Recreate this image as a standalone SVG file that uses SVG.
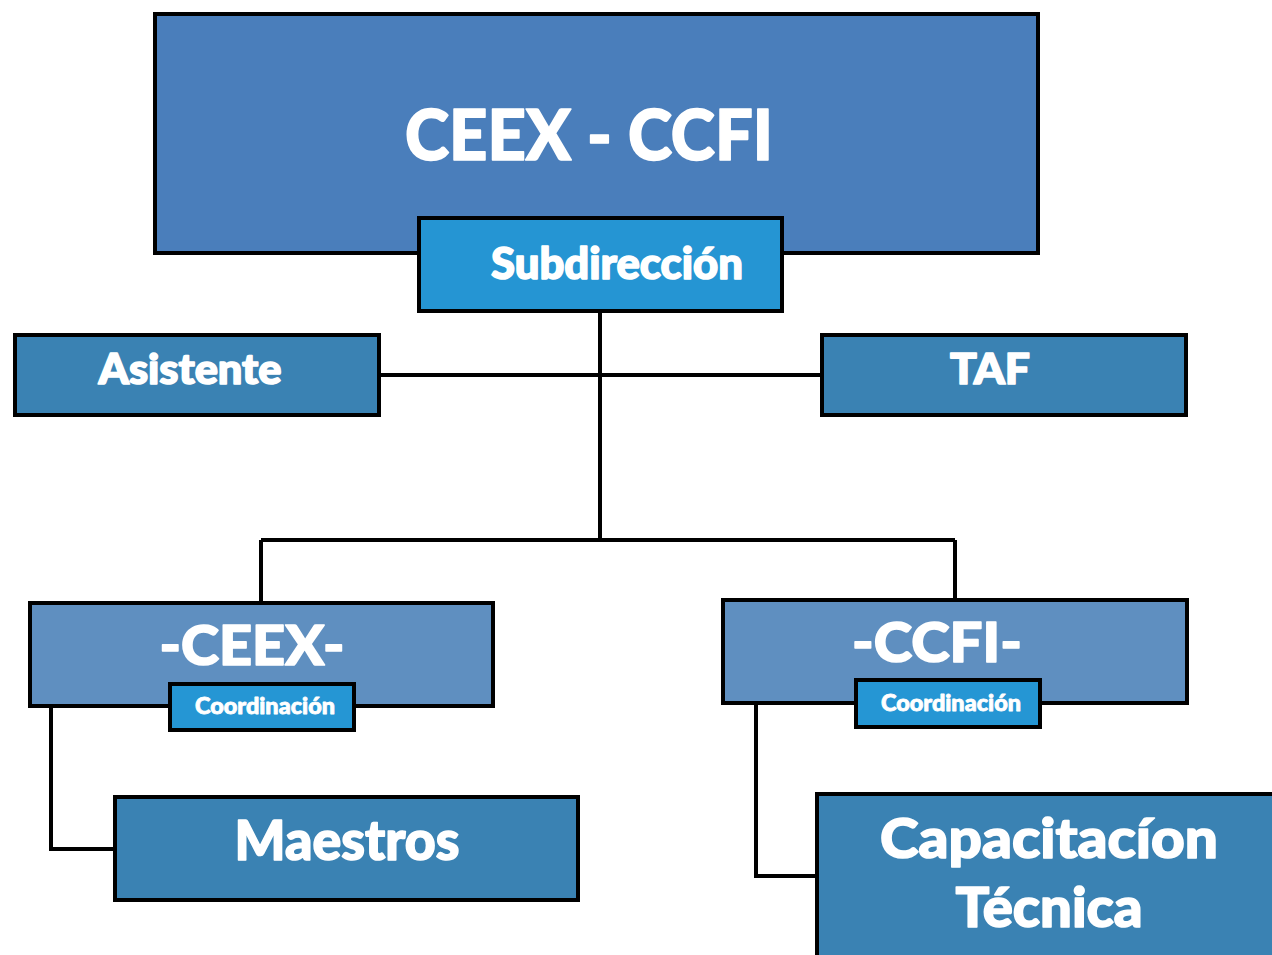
<svg xmlns="http://www.w3.org/2000/svg" width="1272" height="955" viewBox="0 0 1272 955">
<style>
.box{stroke:#000;stroke-width:4}
.t{fill:#fff;stroke:#fff;stroke-width:1.6;stroke-linejoin:round;font-family:Lato,"Open Sans","Liberation Sans",sans-serif;font-weight:900;text-anchor:middle}
.s{stroke-width:0.8}
.c{fill:none;stroke:#000;stroke-width:4}
</style>
<rect width="1272" height="955" fill="#fff"/>
<g id="connectors">
<path class="c" d="M600 313V540M381 375H820M261 540H955M261 540V602M955 540V599M51 708V849H114M756 705V876H816"/>
</g>
<g id="top">
<rect class="box" x="155" y="14" width="883" height="239" fill="#4A7EBB"/>
<text class="t" x="589" y="160" font-size="70" textLength="368" lengthAdjust="spacingAndGlyphs">CEEX - CCFI</text>
</g>
<g id="subdireccion">
<rect class="box" x="419" y="218" width="363" height="93" fill="#2595D3"/>
<text class="t" x="617" y="279" font-size="44" textLength="252" lengthAdjust="spacingAndGlyphs">Subdirección</text>
</g>
<g id="asistente">
<rect class="box" x="15" y="335" width="364" height="80" fill="#3A82B3"/>
<text class="t" x="190" y="384" font-size="42" textLength="183" lengthAdjust="spacingAndGlyphs">Asistente</text>
</g>
<g id="taf">
<rect class="box" x="822" y="335" width="364" height="80" fill="#3A82B3"/>
<text class="t" x="990" y="384" font-size="42" textLength="80" lengthAdjust="spacingAndGlyphs">TAF</text>
</g>
<g id="ceex">
<rect class="box" x="30" y="603" width="463" height="103" fill="#5F8FC0"/>
<text class="t" x="252" y="665" font-size="56" textLength="185" lengthAdjust="spacingAndGlyphs">-CEEX-</text>
</g>
<g id="coord-ceex">
<rect class="box" x="170" y="684" width="184" height="46" fill="#2596D4"/>
<text class="t s" x="265" y="714" font-size="22" textLength="140" lengthAdjust="spacingAndGlyphs">Coordinación</text>
</g>
<g id="ccfi">
<rect class="box" x="723" y="600" width="464" height="103" fill="#5F8FC0"/>
<text class="t" x="937" y="662" font-size="56" textLength="170" lengthAdjust="spacingAndGlyphs">-CCFI-</text>
</g>
<g id="coord-ccfi">
<rect class="box" x="856" y="680" width="184" height="47" fill="#2596D4"/>
<text class="t s" x="951" y="711" font-size="22" textLength="140" lengthAdjust="spacingAndGlyphs">Coordinación</text>
</g>
<g id="maestros">
<rect class="box" x="115" y="797" width="463" height="103" fill="#3A82B3"/>
<text class="t" x="347" y="860" font-size="56" textLength="225" lengthAdjust="spacingAndGlyphs">Maestros</text>
</g>
<g id="capacitacion">
<rect class="box" x="817" y="794" width="470" height="175" fill="#3A82B3"/>
<text class="t" x="1049" y="858" font-size="56" textLength="338" lengthAdjust="spacingAndGlyphs">Capacitacíon</text>
<text class="t" x="1049" y="927" font-size="56" textLength="187" lengthAdjust="spacingAndGlyphs">Técnica</text>
</g>
</svg>
